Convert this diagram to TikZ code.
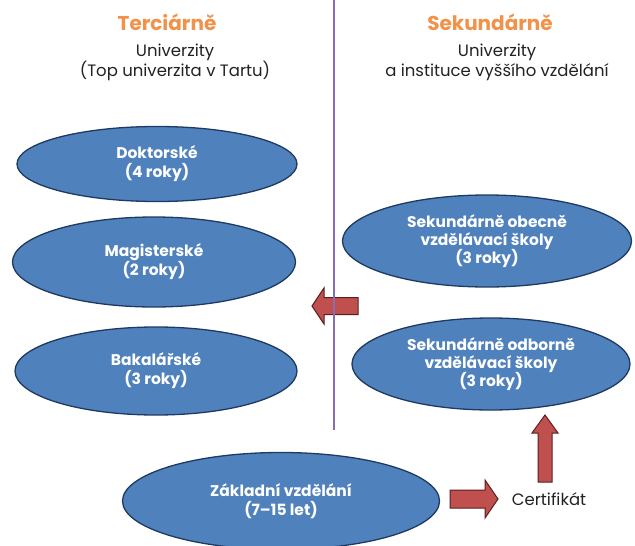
\documentclass[tikz,border=0pt]{standalone}
\usepackage{fontspec}
\setmainfont{Poppins}
\usetikzlibrary{shapes.geometric}
\definecolor{ellfill}{HTML}{4F81BD}
\definecolor{elldraw}{HTML}{1F3A60}
\definecolor{arrfill}{HTML}{C0504D}
\definecolor{arrdraw}{HTML}{5A1E1E}
\definecolor{headorange}{HTML}{F0924A}
\definecolor{divider}{HTML}{8B6BB1}
\definecolor{txtdark}{HTML}{222222}
\tikzset{
  level/.style={ellipse, fill=ellfill, draw=elldraw, line width=1.3pt, inner sep=0pt,
    text=white, align=center, font=\fontsize{15.5}{19}\selectfont\bfseries},
  header/.style={text=headorange, font=\fontsize{20}{24}\selectfont\bfseries},
  sub/.style={text=txtdark, align=center, font=\fontsize{16.5}{20}\selectfont},
  blockarrow/.style={fill=arrfill, draw=arrdraw, line width=1pt, line join=miter},
  divline/.style={draw=divider, line width=2.6pt}
}
\begin{document}
\begin{tikzpicture}[x=1pt,y=-1pt]
\useasboundingbox (0,0) rectangle (635,546);
% headers
\node[header] (terc) at (167,22) {Terciárně};
\node[header] (sek) at (490,22) {Sekundárně};
\node[sub] (tercsub) at (175,62) {Univerzity\\(Top univerzita v Tartu)};
\node[sub] (seksub) at (497,62) {Univerzity\\a instituce vyššího vzdělání};
% left column
\node[level, minimum width=280pt, minimum height=75pt] (dok) at (157,164) {Doktorské\\(4 roky)};
\node[level, minimum width=283pt, minimum height=90pt] (mag) at (154,262) {Magisterské\\(2 roky)};
\node[level, minimum width=282pt, minimum height=88pt] (bak) at (156,371) {Bakalářské\\(3 roky)};
% right column
\node[level, minimum width=289pt, minimum height=92pt, font=\fontsize{15.5}{18.3}\selectfont\bfseries] (obec) at (487,241) {Sekundárně obecně\\vzdělávací školy\\(3 roky)};
\node[level, minimum width=278pt, minimum height=92pt, font=\fontsize{15.5}{18.3}\selectfont\bfseries] (odb) at (491,364) {Sekundárně odborně\\vzdělávací školy\\(3 roky)};
% basic
\node[level, minimum width=317pt, minimum height=97pt] (zak) at (281,501) {Základní vzdělání\\(7–15 let)};
\node[text=txtdark, font=\fontsize{16.5}{20}\selectfont] (cert) at (549,499) {Certifikát};
% block arrows
\draw[blockarrow] (312,306) -- (324,288) -- (324,297.5) -- (358,297.5) -- (358,314.5) -- (324,314.5) -- (324,324) -- cycle;
\draw[blockarrow] (498,499) -- (485,480) -- (485,490) -- (450,490) -- (450,508) -- (485,508) -- (485,518) -- cycle;
\draw[blockarrow] (545,415) -- (558,433) -- (552,433) -- (552,482) -- (538,482) -- (538,433) -- (532,433) -- cycle;
% divider
\coordinate (divtop) at (334,0);
\coordinate (divbot) at (334,430);
\draw[divline] (divtop) -- (divbot);
\end{tikzpicture}
\end{document}
